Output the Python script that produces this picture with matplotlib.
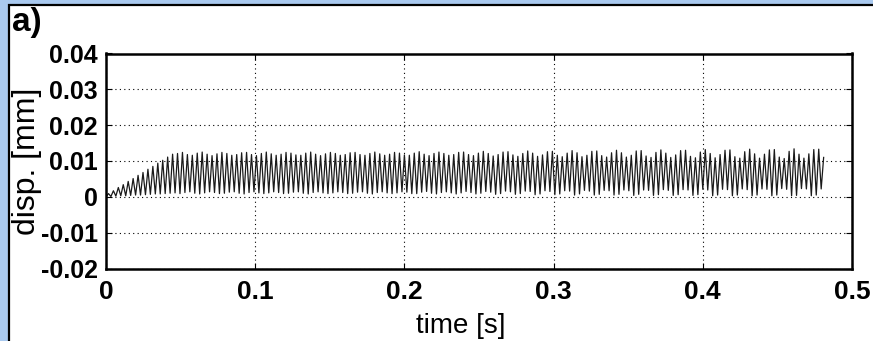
import numpy as np
import matplotlib
matplotlib.use("Agg")
import matplotlib.pyplot as plt
from matplotlib.patches import Rectangle

plt.rcParams["font.family"] = ["Liberation Sans", "DejaVu Sans"]

# displacement extremes in units of 1e-4 mm, one trough + one peak per cycle
peaks = [
    9, 17, 26, 34, 43, 51, 60, 68, 77, 85, 94, 102, 111, 119,
    121, 124, 118, 116, 122, 125, 119, 115, 120, 124,
    121, 116, 118, 123, 124, 118, 115, 121, 125, 120,
    116, 119, 124, 122, 117, 116, 122, 125, 119, 115,
    120, 124, 121, 116, 118, 123, 124, 118, 116, 121,
    125, 120, 116, 119, 124, 122, 117, 116, 122, 126,
    119, 115, 121, 125, 121, 116, 118, 124, 125, 118,
    115, 122, 127, 121, 114, 118, 125, 126, 117, 113,
    121, 128, 122, 113, 117, 126, 127, 116, 112, 122,
    129, 123, 112, 116, 127, 128, 115, 111, 123, 130,
    123, 111, 116, 128, 129, 114, 110, 124, 131, 122,
    110, 117, 129, 130, 113, 109, 125, 132, 121, 109,
    118, 130, 131, 112, 108, 126, 133, 120, 108, 119,
    131, 132, 111, 107, 127, 134, 119, 108, 120, 132,
    133, 110,
]
troughs = [
    0, 1, 2, 3, 3, 4, 5, 5, 6, 7, 8, 8, 9, 10,
    11, 9, 12, 14, 10, 8, 11, 14, 12, 9,
    10, 13, 14, 10, 8, 12, 14, 11, 9, 11,
    14, 12, 9, 10, 13, 14, 10, 8, 12, 14,
    11, 9, 11, 14, 12, 9, 10, 13, 14, 10,
    8, 12, 14, 11, 9, 11, 14, 13, 9, 9,
    13, 15, 10, 8, 12, 14, 11, 8, 11, 15,
    12, 8, 10, 15, 13, 7, 9, 16, 14, 7,
    9, 16, 15, 6, 8, 17, 15, 6, 8, 17,
    16, 5, 8, 18, 16, 5, 7, 18, 17, 5,
    7, 19, 17, 4, 7, 19, 18, 4, 6, 20,
    18, 4, 6, 20, 19, 4, 6, 21, 19, 3,
    5, 21, 20, 3, 5, 22, 20, 3, 5, 22,
    21, 3, 5, 23, 21, 3, 4, 23, 22, 3,
    5, 22,
]
t_end = 0.481

xticks = [0, 0.1, 0.2, 0.3, 0.4, 0.5]
yticks = [-0.02, -0.01, 0, 0.01, 0.02, 0.03, 0.04]
ytick_labels = ["-0.02", "-0.01", "0", "0.01", "0.02", "0.03", "0.04"]

# interleave troughs and peaks into one sampled signal
disp = np.empty(2 * len(peaks))
disp[0::2] = troughs
disp[1::2] = peaks
disp = disp * 1e-4
time = np.linspace(0, t_end, len(disp))

fig = plt.figure(figsize=(8.73, 3.41), dpi=100)
fig.patch.set_facecolor("#a9c9ef")
fig.patches.append(Rectangle((9.3 / 873, -0.1), 1.2, (341 - 5.3) / 341 + 0.1,
                             transform=fig.transFigure, facecolor="white",
                             edgecolor="black", linewidth=1.6, zorder=-10))

ax = fig.add_axes([106 / 873, 72.5 / 341, 746 / 873, 215 / 341])
ax.plot(time, disp, color="#1a1a1a", linewidth=0.9)

ax.set_xlim(0, 0.5)
ax.set_ylim(-0.02, 0.04)
ax.set_xticks(xticks)
ax.set_xticklabels([f"{x:g}" for x in xticks], fontsize=19, fontweight="bold")
ax.set_yticks(yticks)
ax.set_yticklabels(ytick_labels, fontsize=18, fontweight="bold")
ax.tick_params(direction="in", length=4, width=0.8, top=True, right=True)
ax.tick_params(axis="x", pad=8)
ax.tick_params(axis="y", pad=6)
ax.grid(True, color="black", linestyle=(0, (1, 3)), linewidth=0.8)
for s in ax.spines.values():
    s.set_linewidth(1.8)

ax.set_xlabel("time [s]", fontsize=20)
ax.xaxis.set_label_coords(0.475, -0.205)
ax.set_ylabel("disp. [mm]", fontsize=23, labelpad=-1)

fig.text(12 / 873, 1 - 7 / 341, "a)", fontsize=24, fontweight="bold",
         ha="left", va="top")

fig.savefig("out.png", dpi=100, facecolor=fig.get_facecolor())
